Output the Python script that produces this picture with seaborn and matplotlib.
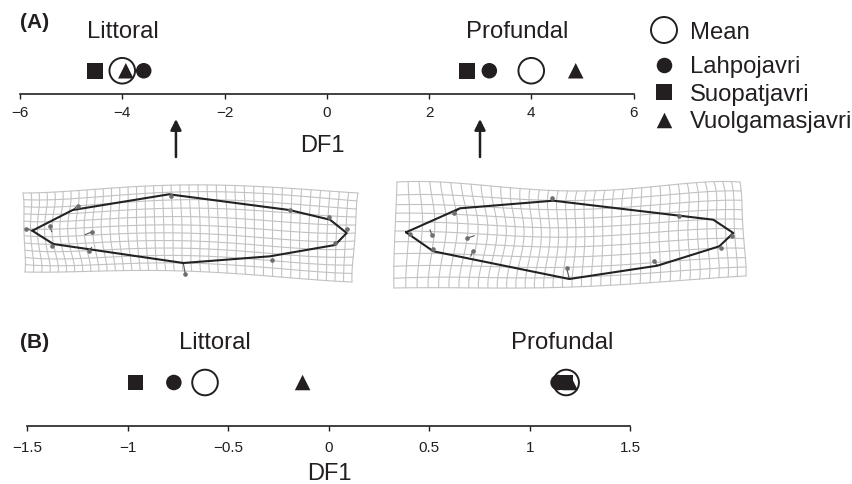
import numpy as np
import pandas as pd
import seaborn as sns
import matplotlib.pyplot as plt

# --- Values ---
sites = ['Lahpojavri', 'Suopatjavri', 'Vuolgamasjavri', 'Mean']

a_littoral = [-3.58, -4.53, -3.93, -4.0]
a_profundal = [3.18, 2.74, 4.87, 4.0]
b_littoral = [-0.77, -0.96, -0.13, -0.615]
b_profundal = [1.14, 1.175, 1.2, 1.18]

a_ticks = [-6, -4, -2, 0, 2, 4, 6]
b_ticks = [-1.5, -1, -0.5, 0, 0.5, 1, 1.5]
b_ticklabels = ['\u22121.5', '\u22121', '\u22120.5', '0', '0.5', '1', '1.5']
arrow_df1 = [-2.95, 3.0]

# deformation grids: control nodes, in image pixels
left_grid_x = [[23, 99, 180, 268, 358],
               [24, 98, 181, 268, 356],
               [24, 97, 182, 268, 355],
               [25, 100, 182, 268, 353],
               [25, 103, 183, 268, 352]]
left_grid_y = [[194, 190, 186, 188, 194],
               [213, 211, 207, 210, 216],
               [233, 232, 230, 235, 238],
               [253, 253, 251, 256, 260],
               [273, 272, 272, 277, 283]]
right_grid_x = [[397, 491, 577, 660, 740],
                [396, 495, 575, 660, 742],
                [395, 497, 576, 659, 743],
                [394, 492, 574, 660, 745],
                [394, 488, 572, 660, 746]]
right_grid_y = [[183, 187, 192, 187, 183],
                [210, 213, 215, 210, 206],
                [232, 236, 238, 233, 230],
                [261, 262, 263, 258, 254],
                [289, 289, 288, 283, 277]]

left_outline = [(32.3, 231.7), (72.7, 211), (169, 195.3), (289.3, 211), (330, 220.7), (346.7, 234),
                (335, 246), (270, 257.3), (183.3, 264), (53.3, 245), (32.3, 231.7)]
left_marks = [(26.3, 229.7), (77.7, 206.7), (170.7, 197.3), (290, 211), (329.3, 217.7), (346.7, 230),
              (334.7, 244), (271.7, 261), (185.3, 275), (89, 252), (52, 247.3), (49.7, 227.3), (92.3, 232.7)]
left_whiskers = [((49.7, 227.3), (51.7, 232.7)), ((92.3, 232.7), (85, 235.7)), ((77.7, 206.7), (72.7, 211)),
                 ((185.3, 275), (183.3, 264)), ((89, 252), (91.7, 248.3)), ((26.3, 229.7), (32.3, 231.7))]

right_outline = [(406, 233.3), (460, 209.3), (553.3, 201.7), (713.3, 220.7), (733.3, 234), (719.3, 247.3),
                 (657.3, 266.7), (569.3, 280), (433.3, 252.3), (406, 233.3)]
right_marks = [(410, 235), (454, 214), (551.7, 199.3), (679, 216.7), (732, 236.7), (720.7, 249.3),
               (654.3, 262.3), (566.7, 269), (472.7, 252.3), (433.3, 250.3), (431.7, 235.7), (466.7, 239.3)]
right_whiskers = [((431.7, 235.7), (430, 230.7)), ((466.7, 239.3), (474.3, 236.7)), ((472.7, 252.3), (470.7, 257.3)),
                  ((566.7, 269), (569.3, 280)), ((654.3, 262.3), (657.3, 266.7)), ((454, 214), (460, 209.3))]

W, H = 853, 485
INK = '#231f20'
MARKERS = {'Lahpojavri': 'o', 'Suopatjavri': 's', 'Vuolgamasjavri': '^', 'Mean': 'o'}

sns.set_style('white')
plt.rcParams['font.family'] = ['Liberation Sans', 'DejaVu Sans']
fig = plt.figure(figsize=(W / 100, H / 100), dpi=100)


def axes_px(left, right, top, bottom):
    return fig.add_axes([left / W, 1 - bottom / H, (right - left) / W, (bottom - top) / H])


def draw_strip(ax, values, xlim, ticks, ticklabels, pad):
    df = pd.DataFrame({'DF1': values, 'y': 0.0, 'site': sites * (len(values) // 4)})
    solid = df[df['site'] != 'Mean']
    sns.scatterplot(data=solid, x='DF1', y='y', style='site', markers=MARKERS, s=125, color=INK,
                    edgecolor=INK, linewidth=0, legend=False, ax=ax, clip_on=False)
    sns.scatterplot(data=df[df['site'] == 'Mean'], x='DF1', y='y', marker='o', s=340, facecolor='none',
                    edgecolor=INK, linewidth=1.4, legend=False, ax=ax, clip_on=False)
    ax.set_xlim(*xlim)
    ax.set_ylim(-1, 1)
    ax.set_xticks(ticks)
    ax.set_xticklabels(ticklabels, fontsize=11, color=INK)
    ax.set_yticks([])
    ax.set_xlabel('')
    ax.set_ylabel('')
    ax.tick_params(axis='x', direction='out', length=3.6, width=1, color=INK, pad=pad, bottom=True)
    ax.patch.set_alpha(0)
    sns.despine(ax=ax, left=True)
    ax.spines['bottom'].set_linewidth(1.2)
    ax.spines['bottom'].set_color(INK)


# --- Strips ---
ax_a = axes_px(20, 633.5, 49, 94.5)
draw_strip(ax_a, a_littoral + a_profundal, (-6, 6), a_ticks, [str(t).replace('-', '\u2212') for t in a_ticks], 5)
ax_b = axes_px(27, 630.5, 340, 427)
draw_strip(ax_b, b_littoral + b_profundal, (-1.5, 1.5), b_ticks, b_ticklabels, 6.5)

# --- Overlay in image pixels for the text, legend and grids ---
over = fig.add_axes([0, 0, 1, 1], zorder=-1)
over.set_xlim(0, W)
over.set_ylim(H, 0)
over.axis('off')


def lagrange(t):
    nodes = np.linspace(0, 1, 5)
    return np.array([np.prod([(t - nodes[m]) / (nodes[k] - nodes[m]) for m in range(5) if m != k], axis=0)
                     for k in range(5)])


def draw_grid(gx, gy, n_cols, n_rows):
    gx, gy = np.array(gx, float), np.array(gy, float)
    fine = np.linspace(0, 1, 60)
    for v in np.linspace(0, 1, n_rows + 1):
        bv, bu = lagrange(np.array([v])), lagrange(fine)
        over.plot(bu.T @ (gx.T @ bv).ravel(), bu.T @ (gy.T @ bv).ravel(), color='#c2c2c2', lw=0.8, zorder=1)
    for u in np.linspace(0, 1, n_cols + 1):
        bu, bv = lagrange(np.array([u])), lagrange(fine)
        over.plot(bv.T @ (gx @ bu).ravel(), bv.T @ (gy @ bu).ravel(), color='#c2c2c2', lw=0.8, zorder=1)


def draw_shape(outline, marks, whiskers):
    for start, end in whiskers:
        over.plot([start[0], end[0]], [start[1], end[1]], color='#555555', lw=0.8, zorder=2)
    over.plot(*zip(*outline), color='#222222', lw=1.5, zorder=3)
    over.scatter(*zip(*marks), s=11, color='#6e6e6e', linewidths=0, zorder=4)


draw_grid(left_grid_x, left_grid_y, 38, 11)
draw_shape(left_outline, left_marks, left_whiskers)
draw_grid(right_grid_x, right_grid_y, 36, 10)
draw_shape(right_outline, right_marks, right_whiskers)

# arrows under the DF1 axis
for val in arrow_df1:
    px = 326.7 + val * 51.1
    over.annotate('', xy=(px, 120), xytext=(px, 158),
                  arrowprops=dict(arrowstyle='-|>', color=INK, lw=1.8, mutation_scale=16, shrinkA=0, shrinkB=0))

TXT = dict(color=INK, ha='center', va='baseline')
over.text(122.7, 38, 'Littoral', fontsize=17.2, **TXT)
over.text(517, 38, 'Profundal', fontsize=17.2, **TXT)
over.text(322, 151.7, 'DF1', fontsize=17, **TXT)
over.text(34.5, 28, '(A)', fontsize=15, fontweight='bold', **TXT)
over.text(215, 349, 'Littoral', fontsize=17.2, **TXT)
over.text(562, 349, 'Profundal', fontsize=17.2, **TXT)
over.text(329, 480, 'DF1', fontsize=17, **TXT)
over.text(34.5, 348, '(B)', fontsize=15, fontweight='bold', **TXT)

# legend
over.scatter([664], [31], marker='o', s=350, facecolor='none', edgecolor=INK, linewidth=1.4)
for name, yy, base in zip(sites[:3], [66, 93, 121], [72.7, 101, 128]):
    over.scatter([664], [yy], marker=MARKERS[name], s=125, color=INK, linewidths=0)
    over.text(690, base, name, fontsize=17.2, color=INK, va='baseline')
over.text(690, 39, 'Mean', fontsize=17.2, color=INK, va='baseline')

fig.savefig('out.png', dpi=100)
